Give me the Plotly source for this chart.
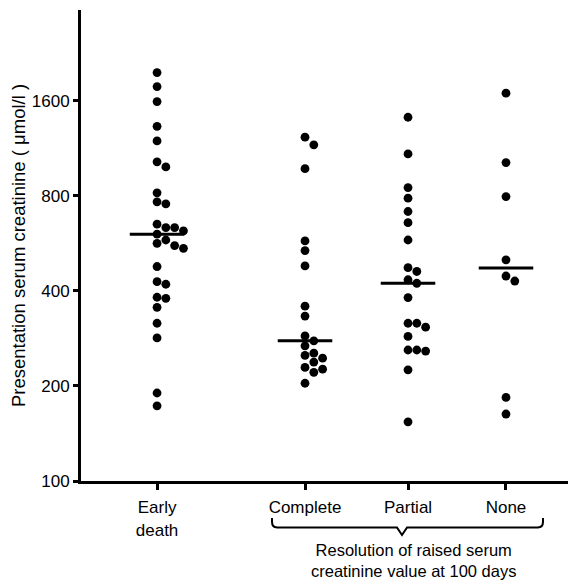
import numpy as np
import plotly.graph_objects as go

# ---- data (µmol/l) ----
categories = ["Early<br>death", "Complete", "Partial", "None"]
category_pos = [0.535, 2.0, 3.02, 3.99]

early_death = [1967, 1776, 1592, 1329, 1195, 1026, 988, 818, 766, 755,
               651, 635, 635, 620, 605, 580, 566, 557, 546, 478,
               428, 420, 382, 379, 355, 316, 284, 190, 173]
complete = [1228, 1161, 976, 576, 537, 480, 358, 333, 288, 278,
            268, 254, 250, 245, 238, 229, 226, 221, 204]
partial = [1420, 1087, 850, 787, 714, 658, 580, 474, 461, 434,
           423, 381, 316, 316, 307, 287, 260, 260, 258, 225, 154]
none = [1693, 1020, 796, 502, 446, 430, 184, 163]

y_ticks = [100, 200, 400, 800, 1600]
groups = [early_death, complete, partial, none]

# ---- layout geometry ----
W, H = 568, 585
ML, MR, MT, MB = 81, 0, 10, 104
x_range = [-0.218, 4.604]
y_range = [2.0, 3.492]
px_per_x = (W - ML - MR) / (x_range[1] - x_range[0])
px_per_ylog = (H - MT - MB) / (y_range[1] - y_range[0])
DOT = 8.8


def swarm_offsets(vals, d=DOT):
    """Simple one-sided beeswarm: place each dot at the first free column to the right."""
    order = np.argsort(vals)[::-1]
    placed = []
    offs = np.zeros(len(vals))
    for i in order:
        yp = np.log10(vals[i]) * px_per_ylog
        k = 0
        while True:
            xp = k * d
            if all(np.hypot(xp - px, yp - py) >= d * 0.95 for px, py in placed):
                break
            k += 1
        placed.append((xp, yp))
        offs[i] = xp / px_per_x
    return offs


fig = go.Figure()
for pos, vals in zip(category_pos, groups):
    v = np.array(vals, dtype=float)
    xs = pos + swarm_offsets(v)
    fig.add_trace(go.Scatter(x=xs, y=v, mode="markers",
                             marker=dict(size=DOT, color="black", line=dict(width=0)),
                             showlegend=False, hoverinfo="y"))
    med = 10 ** np.median(np.log10(v))
    fig.add_trace(go.Scatter(x=[pos - 0.27, pos + 0.27], y=[med, med], mode="lines",
                             line=dict(color="black", width=3), showlegend=False,
                             hoverinfo="skip"))


def py(pix):
    return (H - MB - pix) / (H - MT - MB)


def dx(pix):
    return x_range[0] + (pix - ML) / px_per_x


# bracket under the three resolution categories
xl, xr, xn = dx(272), dx(543), dx(402)
y0, y1, y2 = py(518), py(527.5), py(535)
r = 0.05
path = (f"M {xl},{y0} L {xl},{y1 + 0.012} Q {xl},{y1} {xl + r},{y1} "
        f"L {xn - 0.05},{y1} L {xn},{y2} L {xn + 0.05},{y1} "
        f"L {xr - r},{y1} Q {xr},{y1} {xr},{y1 + 0.012} L {xr},{y0}")
fig.add_shape(type="path", path=path, xref="x", yref="paper",
              line=dict(color="black", width=2))

fig.add_annotation(x=dx(413), y=py(560), xref="x", yref="paper",
                   text="Resolution of raised serum<br>creatinine value at 100 days",
                   showarrow=False, font=dict(size=16.5, color="black"),
                   align="center", yanchor="middle")

font_family = "Liberation Sans, Arial, sans-serif"
fig.update_layout(
    width=W, height=H,
    margin=dict(l=ML, r=MR, t=MT, b=MB, pad=0),
    paper_bgcolor="white", plot_bgcolor="white",
    font=dict(family=font_family, size=17, color="black"),
    xaxis=dict(range=x_range, tickvals=category_pos, ticktext=categories,
               showgrid=False, zeroline=False, showline=True, linecolor="black",
               linewidth=3, ticks="outside", ticklen=6, tickwidth=2.5,
               tickcolor="black", tickfont=dict(size=17), ticklabelstandoff=3),
    yaxis=dict(type="log", range=y_range, tickvals=y_ticks,
               ticktext=[str(t) for t in y_ticks],
               showgrid=False, zeroline=False, showline=True, linecolor="black",
               linewidth=3, ticks="outside", ticklen=5, tickwidth=2.5,
               tickcolor="black", tickfont=dict(size=17), automargin=False,
               title=dict(text="Presentation serum creatinine ( \u03bcmol/l )",
                          font=dict(size=18.5), standoff=2)),
)

fig.write_html("out.html", config={"displayModeBar": False},
               post_script="document.body.style.margin='0';document.body.style.overflow='hidden';")
